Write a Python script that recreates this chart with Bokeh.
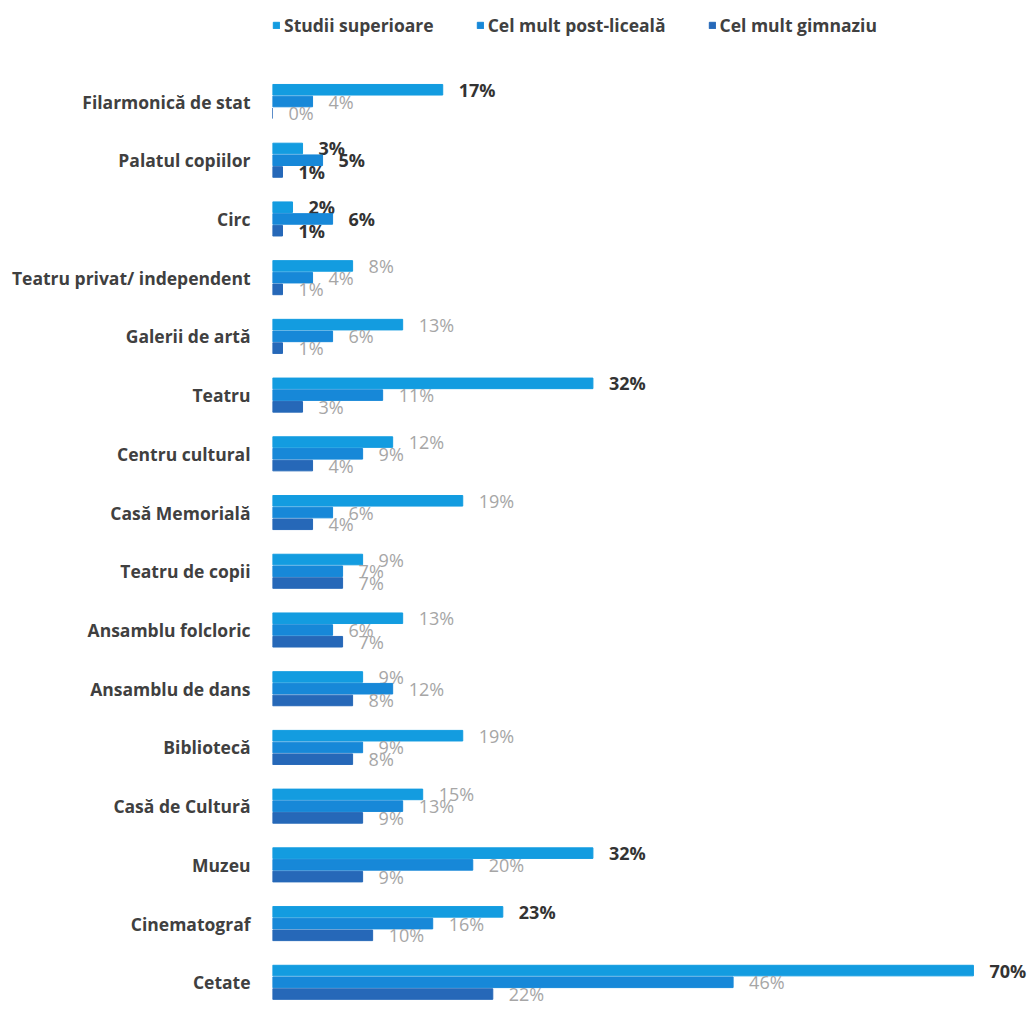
from bokeh.plotting import figure
from bokeh.models import ColumnDataSource, Range1d, FixedTicker, Legend, LegendItem
from bokeh.core.properties import value
from bokeh.embed import file_html
from bokeh.resources import INLINE

categories = ["Filarmonică de stat", "Palatul copiilor", "Circ", "Teatru privat/ independent",
              "Galerii de artă", "Teatru", "Centru cultural", "Casă Memorială", "Teatru de copii",
              "Ansamblu folcloric", "Ansamblu de dans", "Bibliotecă", "Casă de Cultură", "Muzeu",
              "Cinematograf", "Cetate"]
series_names = ["Studii superioare", "Cel mult post-liceală", "Cel mult gimnaziu"]
studii_superioare = [17, 3, 2, 8, 13, 32, 12, 19, 9, 13, 9, 19, 15, 32, 23, 70]
post_liceala = [4, 5, 6, 4, 6, 11, 9, 6, 7, 6, 12, 9, 13, 20, 16, 46]
gimnaziu = [0, 1, 1, 1, 1, 3, 4, 4, 7, 7, 8, 8, 9, 9, 10, 22]
# which labels are shown dark/bold (per series)
dark_sup = [1, 1, 1, 0, 0, 1, 0, 0, 0, 0, 0, 0, 0, 1, 1, 1]
dark_post = [0, 1, 1, 0, 0, 0, 0, 0, 0, 0, 0, 0, 0, 0, 0, 0]
dark_gim = [0, 1, 1, 0, 0, 0, 0, 0, 0, 0, 0, 0, 0, 0, 0, 0]

colors = ["#139ce0", "#1788d8", "#2668b8"]
offsets = [0.2, 0.0, -0.2]
bar_h = 0.18

n = len(categories)
ypos = [n - 1 - i for i in range(n)]

p = figure(width=1035, height=1010, output_backend="svg", toolbar_location=None,
           x_range=Range1d(0, 76.2), y_range=Range1d(-0.48, 16.72),
           min_border_left=272, min_border_right=0, min_border_top=0, min_border_bottom=0)
p.xaxis.visible = False
p.xgrid.visible = False
p.ygrid.visible = False
p.outline_line_color = None
p.background_fill_color = "white"
p.border_fill_color = "white"

ax = p.yaxis[0]
ax.ticker = FixedTicker(ticks=ypos)
ax.major_label_overrides = {y: c for y, c in zip(ypos, categories)}
ax.axis_line_color = None
ax.major_tick_line_color = None
ax.minor_tick_line_color = None
ax.major_label_standoff = 16
ax.major_label_text_font = "Open Sans"
ax.major_label_text_font_size = "17.5px"
ax.major_label_text_font_style = "bold"
ax.major_label_text_color = "#404040"

items = []
for vals, dark, col, off, name in zip([studii_superioare, post_liceala, gimnaziu],
                                      [dark_sup, dark_post, dark_gim], colors, offsets, series_names):
    src = ColumnDataSource(dict(
        y=[y + off for y in ypos], v=vals,
        lab=[f"{v}%" for v in vals],
        tc=["#333333" if d else "#a6a6a6" for d in dark],
        fs=["bold" if d else "normal" for d in dark],
    ))
    r = p.hbar(y="y", right="v", left=0, height=bar_h, source=src, color=col)
    p.text(x="v", y="y", text="lab", source=src, x_offset=16, text_align="left",
           text_baseline="middle", text_font=value("Open Sans"), text_font_size="18px",
           text_color="tc", text_font_style="fs")
    items.append(LegendItem(label=name, renderers=[r]))

legend = Legend(items=items, orientation="horizontal", location=(0, 973),
                glyph_width=8, glyph_height=8, label_standoff=4, spacing=42,
                label_text_font="Open Sans", label_text_font_size="17.5px",
                label_text_font_style="bold", label_text_color="#404040",
                border_line_color=None, background_fill_alpha=0, padding=0, margin=0)
p.add_layout(legend, "center")

open("out.html", "w").write(file_html(p, INLINE))
